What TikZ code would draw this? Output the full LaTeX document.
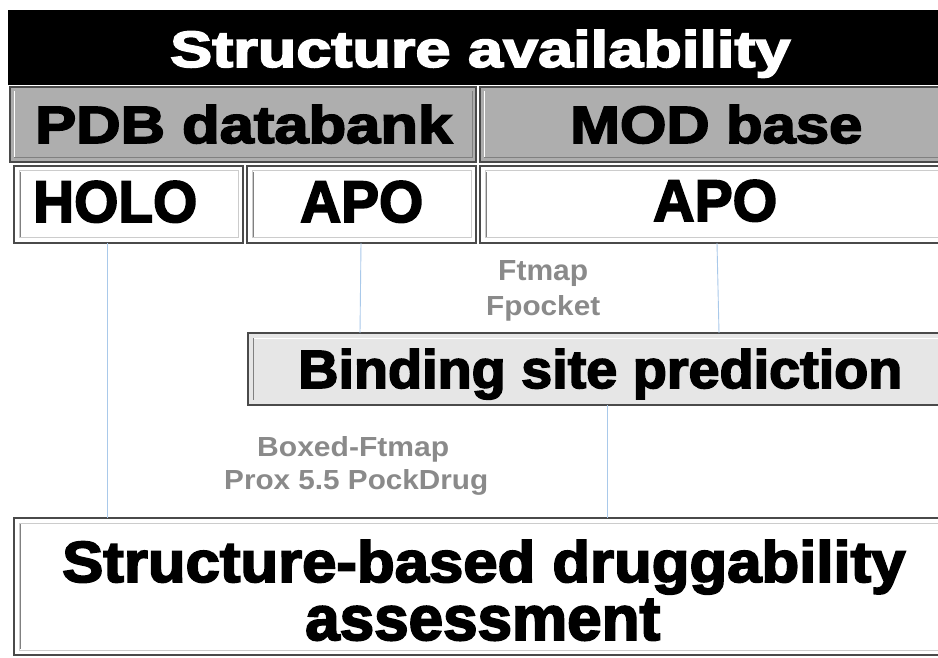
\documentclass[tikz,border=0pt]{standalone}
\usepackage{fontspec}
\setmainfont{Liberation Sans}
\newfontfamily\heavy{Liberation Sans}[FakeBold=3]
\newfontfamily\labelfont{Liberation Sans}
\usepackage{graphicx}
\definecolor{boxgray}{HTML}{AEAEAE}
\definecolor{predgray}{HTML}{E6E6E6}
\definecolor{linkblue}{HTML}{A9C9EA}
\definecolor{notegray}{HTML}{8A8A8A}
\definecolor{edgedark}{HTML}{4A4A4A}
% fitted heavy text: width, height above baseline, text
\newcommand\fitheavy[3]{\resizebox{#1}{#2}{\heavy\bfseries #3}}
\newcommand\fitnote[3]{\resizebox{#1}{#2}{\labelfont\bfseries #3}}
\tikzset{
  bevel/.style={draw=edgedark, line width=1.2pt},
  innerbevel/.style={draw=white!80!black, line width=1pt},
  darkedge/.style={draw=gray, line width=1pt},
  link/.style={draw=linkblue, line width=0.9pt},
  big/.style={anchor=base west, inner sep=0pt, text=black},
  note/.style={anchor=base west, inner sep=0pt, text=notegray},
}
\begin{document}
\begin{tikzpicture}[x=1pt, y=-1pt]
\useasboundingbox (0,0) rectangle (938,658);
\fill[white] (0,0) rectangle (938,658);

% title bar
\fill[black] (8,10) rectangle (938,85);
\node[big, text=white] (title) at (170,67) {\fitheavy{620pt}{37pt}{Structure availability}};

% source boxes
\fill[boxgray] (10,87) rectangle (476,162);
\draw[bevel] (10,87) rectangle (476,162);
\draw[draw=white, line width=1pt] (14,91) -- (14,158);
\draw[darkedge] (14,158) -- (472,158) -- (472,91);
\node[big] (pdb) at (35,143) {\fitheavy{417pt}{38pt}{PDB databank}};

\fill[boxgray] (480,87) rectangle (940,162);
\draw[bevel] (480,87) rectangle (940,162);
\draw[draw=white, line width=1pt] (484,91) -- (484,158);
\draw[darkedge] (484,158) -- (940,158);
\node[big] (mod) at (570,143) {\fitheavy{292pt}{38pt}{MOD base}};

% structure type boxes
\draw[bevel, fill=white] (14,166) rectangle (243,243);
\draw[innerbevel] (19,171) rectangle (238,238);
\draw[darkedge] (20,172) -- (20,237);
\node[big] (holo) at (33,222) {\fitheavy{164pt}{41pt}{HOLO}};
\coordinate (holoB) at (107,243);

\draw[bevel, fill=white] (247,166) rectangle (476,243);
\draw[innerbevel] (252,171) rectangle (471,238);
\draw[darkedge] (253,172) -- (253,237);
\node[big] (apo1) at (300,222) {\fitheavy{123pt}{41pt}{APO}};
\coordinate (apo1B) at (361,243);

\draw[bevel, fill=white] (480,166) rectangle (940,243);
\draw[innerbevel] (485,171) rectangle (940,238);
\draw[darkedge] (486,172) -- (486,237);
\node[big] (apo2) at (653,221) {\fitheavy{124pt}{41pt}{APO}};
\coordinate (apo2B) at (717,243);

% prediction box
\draw[bevel, fill=predgray] (248,333) rectangle (940,405);
\draw[darkedge] (253,338) -- (253,400);
\draw[draw=white, line width=1pt] (254,338) -- (940,338);
\node[big] (pred) at (298,388) {\fitheavy{604pt}{39pt}{Binding site prediction}};
\coordinate (predT1) at (360,333);
\coordinate (predT2) at (719,333);
\coordinate (predB) at (607,405);

% assessment box
\draw[bevel, fill=white] (14,518) rectangle (940,655);
\draw[innerbevel] (19,523) rectangle (940,650);
\draw[darkedge] (20,524) -- (20,649);
\node[big] (assess1) at (62,582) {\fitheavy{843pt}{42pt}{Structure-based druggability}};
\node[big] (assess2) at (305,640) {\fitheavy{355pt}{41pt}{assessment}};
\coordinate (assT1) at (107,518);
\coordinate (assT2) at (607,518);

% tool notes
\node[note] (ftmap) at (498,280) {\fitnote{90pt}{20pt}{Ftmap}};
\node[note] (fpocket) at (486,315) {\fitnote{114pt}{20pt}{Fpocket}};
\node[note] (boxed) at (257,456) {\fitnote{192pt}{20pt}{Boxed-Ftmap}};
\node[note] (prox) at (224,489) {\fitnote{264pt}{20pt}{Prox 5.5 PockDrug}};

% links
\draw[link] (holoB) -- (assT1);
\draw[link] (apo1B) -- (predT1);
\draw[link] (apo2B) -- (predT2);
\draw[link] (predB) -- (assT2);
\end{tikzpicture}
\end{document}
